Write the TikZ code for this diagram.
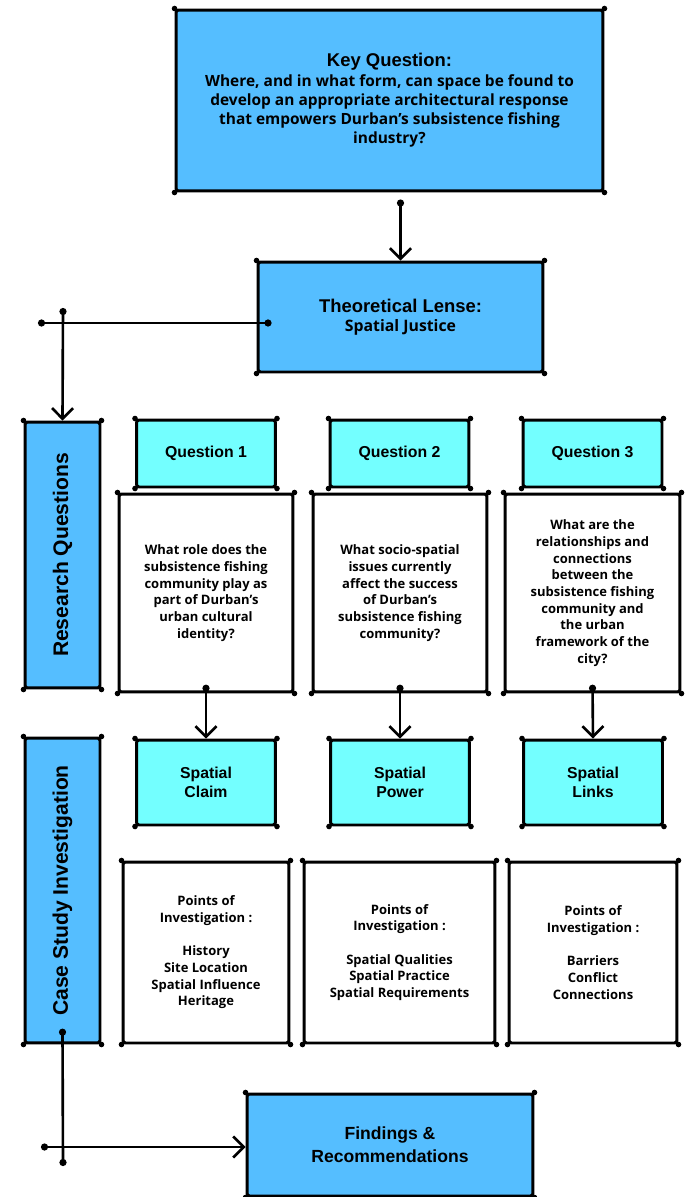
\documentclass[tikz,border=0pt]{standalone}
\usepackage{fontspec}
\setmainfont{Open Sans}
\newfontfamily\headfont{Liberation Sans}
\usetikzlibrary{arrows.meta}

\definecolor{boxblue}{RGB}{85,190,255}
\definecolor{boxcyan}{RGB}{115,255,255}

\tikzset{
  box/.style={draw, line width=1.7pt, rounded corners=1.5pt, align=center, inner sep=2pt},
  bluebox/.style={box, fill=boxblue},
  cyanbox/.style={box, fill=boxcyan, minimum width=2.78cm,
    font=\headfont\bfseries\fontsize{9}{10.5}\selectfont},
  textbox/.style={box, fill=white, font=\bfseries\fontsize{7.4}{9.5}\selectfont},
  link/.style={line width=1.5pt, {Circle[length=4pt]}-{Straight Barb[length=6pt,width=12pt]}},
  bar/.style={line width=1.5pt, {Circle[length=4pt]}-{Circle[length=4pt]}},
  sidetext/.style={rotate=90, font=\headfont\bfseries\fontsize{12}{14}\selectfont},
}

\begin{document}
\begin{tikzpicture}[x=0.02cm, y=-0.02cm]
  \useasboundingbox (0,0) rectangle (686,1197);

  % top
  \node[bluebox, minimum width=8.54cm, minimum height=3.62cm,
    font=\bfseries\fontsize{8.8}{11}\selectfont] (key) at (389.5,100.5)
    {{\headfont\fontsize{10.5}{11}\selectfont Key Question:}\\
     Where, and in what form, can space be found to\\
     develop an appropriate architectural response\\
     that empowers Durban’s subsistence fishing\\
     industry?};
  \node[bluebox, minimum width=5.7cm, minimum height=2.2cm,
    font=\bfseries\fontsize{9}{11}\selectfont] (theory) at (400.5,317)
    {{\headfont\fontsize{10.5}{11}\selectfont Theoretical Lense:}\\
     Spatial Justice};

  % research questions
  \node[bluebox, minimum width=1.5cm, minimum height=5.32cm] (research) at (62.5,555) {};
  \node[sidetext] at (research) {Research Questions};
  \node[cyanbox, minimum height=1.34cm] (q1) at (206,453.5) {Question 1};
  \node[cyanbox, minimum height=1.34cm] (q2) at (399.5,453.5) {Question 2};
  \node[cyanbox, minimum height=1.34cm] (q3) at (592.5,453.5) {Question 3};
  \node[textbox, minimum width=3.48cm, minimum height=3.96cm] (t1) at (206,593)
    {What role does the\\subsistence fishing\\community play as\\part of Durban’s\\urban cultural\\identity?};
  \node[textbox, minimum width=3.48cm, minimum height=3.96cm] (t2) at (400,593)
    {What socio-spatial\\issues currently\\affect the success\\of Durban’s\\subsistence fishing\\community?};
  \node[textbox, minimum width=3.5cm, minimum height=3.96cm] (t3) at (592.5,593)
    {What are the\\relationships and\\connections\\between the\\subsistence fishing\\community and\\the urban\\framework of the\\city?};

  % case study
  \node[bluebox, minimum width=1.5cm, minimum height=6.1cm] (case) at (62.5,890.5) {};
  \node[sidetext] at (case) {Case Study Investigation};
  \node[cyanbox, minimum height=1.7cm] (claim) at (206,782.5) {Spatial\\Claim};
  \node[cyanbox, minimum height=1.7cm] (power) at (400,782.5) {Spatial\\Power};
  \node[cyanbox, minimum height=1.7cm] (links) at (593,782.5) {Spatial\\Links};
  \node[textbox, minimum width=3.32cm, minimum height=3.62cm] (p1) at (206,952.5)
    {Points of\\Investigation :\\[9.5pt]History\\Site Location\\Spatial Influence\\Heritage};
  \node[textbox, minimum width=3.82cm, minimum height=3.62cm] (p2) at (399.5,952.5)
    {Points of\\Investigation :\\[9.5pt]Spatial Qualities\\Spatial Practice\\Spatial Requirements};
  \node[textbox, minimum width=3.36cm, minimum height=3.62cm] (p3) at (593,952.5)
    {Points of\\Investigation :\\[9.5pt]Barriers\\Conflict\\Connections};

  \node[bluebox, minimum width=5.72cm, minimum height=2.04cm,
    font=\headfont\bfseries\fontsize{10}{13}\selectfont] (findings) at (390,1145)
    {Findings \&\\Recommendations};

  % corner dots
  \foreach \n in {key,theory,research,q1,q2,q3,t1,t2,t3,case,claim,power,links,p1,p2,p3,findings}
    \foreach \a in {north west,north east,south west,south east}
      \fill (\n.\a) circle (1.6pt);

  % connectors
  \draw[link] ([yshift=-4pt]theory.north |- key.south) -- (theory.north);
  \coordinate (tl) at (38,323);
  \path (theory.west |- tl) ++(15,0) coordinate (tr);
  \draw[bar] (tl) -- (tr);
  \coordinate (rq) at (63,308);
  \draw[link] (rq) -- (research.north);

  \foreach \t/\c in {t1/claim,t2/power,t3/links}
    \draw[link] ([yshift=5pt]\t.south) -- (\c.north);

  \coordinate (cs) at (63,1166);
  \draw[bar] ([yshift=9pt]case.south) -- (cs);
  \coordinate (fl) at (41,1147);
  \draw[link] (fl) -- (fl -| findings.west);
\end{tikzpicture}
\end{document}
